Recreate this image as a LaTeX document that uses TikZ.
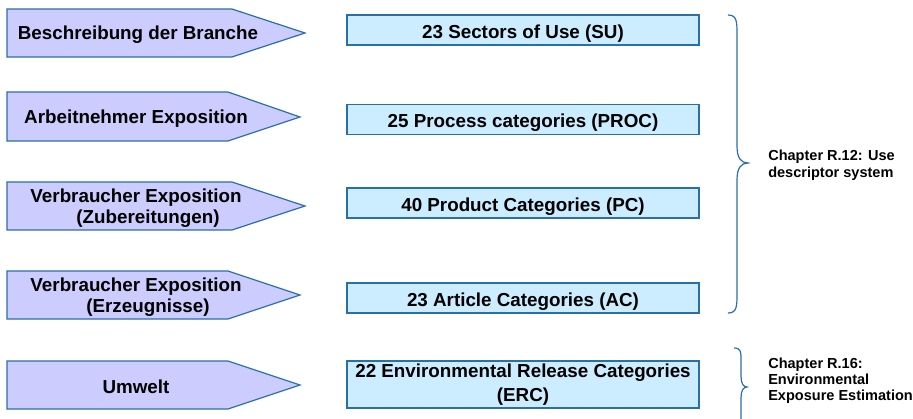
\documentclass[tikz,border=0pt]{standalone}
\usepackage{fontspec}
\setmainfont{Liberation Sans}
\definecolor{edge}{HTML}{2A6FA6}
\definecolor{arrowfill}{HTML}{CCCCFF}
\definecolor{boxfill}{HTML}{CCECFF}
\begin{document}
\begin{tikzpicture}[x=0.75pt,y=-0.75pt,
  tag/.style={draw=edge, fill=arrowfill, line width=0.9pt},
  tagtext/.style={font=\fontsize{14.1}{16}\selectfont\bfseries, align=center, inner sep=0pt},
  catbox/.style={draw=edge, fill=boxfill, line width=0.9pt, minimum width=264pt,
    minimum height=22.5pt, font=\fontsize{14.1}{18}\selectfont\bfseries, inner sep=0pt,
    text height=12.5pt, text depth=0.5pt},
  brace/.style={draw=edge, line width=0.9pt},
  chap/.style={font=\fontsize{10.9}{13}\selectfont\bfseries, align=left, anchor=west, inner sep=0pt}]
\useasboundingbox (0,0) rectangle (913,418);
\clip (0,0) rectangle (913,418);
% arrow tags
\path[tag] (7,9) -- (232,9) -- (305,33) -- (232,57) -- (7,57) -- cycle;
\path[tag] (7,92) -- (228,92) -- (300,117) -- (228,141) -- (7,141) -- cycle;
\path[tag] (7,182) -- (232,182) -- (305,206) -- (232,230) -- (7,230) -- cycle;
\path[tag] (7,271) -- (228,271) -- (300,295) -- (228,319) -- (7,319) -- cycle;
\path[tag] (7,361) -- (228,361) -- (300,385) -- (228,409) -- (7,409) -- cycle;
\node[tagtext] (t1) at (138,35) {Beschreibung der Branche};
\node[tagtext] (t2) at (136,119) {Arbeitnehmer Exposition};
\node[tagtext] (t3) at (136,208) {Verbraucher Exposition\\\hspace*{18pt}(Zubereitungen)};
\node[tagtext] (t4) at (136,297) {Verbraucher Exposition\\\hspace*{18pt}(Erzeugnisse)};
\node[tagtext] (t5) at (136,387) {Umwelt};
% category boxes
\node[catbox] (su) at (523,30) {23 Sectors of Use (SU)};
\node[catbox] (proc) at (523,119.5) {25 Process categories (PROC)};
\node[catbox] (pc) at (523,203) {40 Product Categories (PC)};
\node[catbox] (ac) at (523,298) {23 Article Categories (AC)};
\node[catbox, minimum height=35.25pt, text height=, text depth=, align=center] (erc) at (523,384.5) {22 Environmental Release Categories\\(ERC)};
% braces
\draw[brace] (728,15) .. controls (737,15) and (737,22) .. (737,35) -- (737,146)
  .. controls (737,158) and (741,163) .. (748,163)
  .. controls (741,163) and (737,168) .. (737,180) -- (737,293)
  .. controls (737,306) and (737,313) .. (728,313);
\draw[brace] (734,348) .. controls (741,348) and (741,352) .. (741,360) -- (741,376)
  .. controls (741,383) and (743,387) .. (747,387)
  .. controls (743,387) and (741,391) .. (741,398) -- (741,420);
% chapter labels
\node[chap] (c12) at (768,165) {Chapter R.12: Use\\descriptor system};
\node[chap, font=\fontsize{10.9}{12}\selectfont\bfseries] (c16) at (768,381) {Chapter R.16:\\Environmental\\Exposure Estimation};
\end{tikzpicture}
\end{document}
